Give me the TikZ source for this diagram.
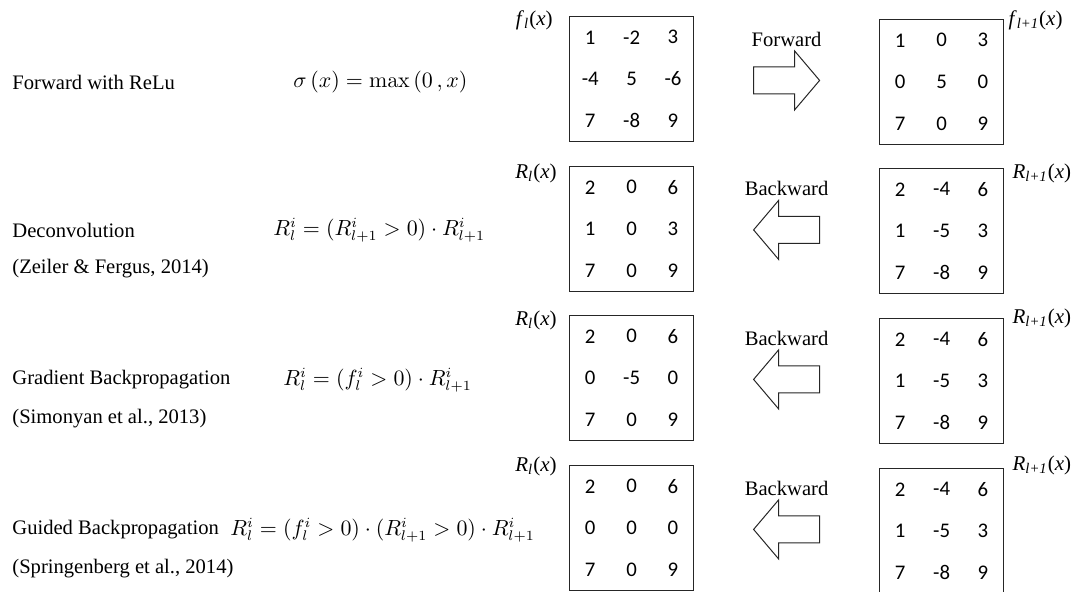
\documentclass[tikz,border=0pt]{standalone}
\usepackage[no-math]{fontspec}
\setmainfont{Liberation Serif}[ItalicFont={Liberation Serif Italic}]
\newfontfamily\numfont{Carlito}
\usetikzlibrary{matrix,calc}

% label of a feature map, e.g. f_l(x)
\newcommand{\maplabel}[2]{\textit{#1}\textsubscript{\textit{#2}}(\textit{x})}

\tikzset{
  fatarrow/.pic={
    \draw[fat] (-33,-13.5) -- (8,-13.5) -- (8,-29.5) -- (33,0)
      -- (8,29.5) -- (8,13.5) -- (-33,13.5) -- cycle;
  }
}

\begin{document}
\begin{tikzpicture}[
  x=0.5pt, y=-0.5pt,
  txt/.style={font=\fontsize{10.3}{12}\selectfont, anchor=west, inner sep=0pt},
  eqn/.style={font=\fontsize{10.6}{13}\selectfont, anchor=west, inner sep=0pt},
  fmap/.style={matrix of nodes, draw=black!85, line width=0.5pt, inner sep=0pt,
               anchor=north west,
               nodes={font=\numfont\fontsize{10.4}{12}\selectfont,
                      minimum width=20.7pt, minimum height=20.8pt,
                      inner sep=0pt, anchor=center}},
  lbl/.style={font=\rmfamily\fontsize{10.5}{12}\selectfont, inner sep=0pt},
  dir/.style={font=\fontsize{10.3}{12}\selectfont, inner sep=0pt},
  fat/.style={draw=black!85, line width=0.5pt, fill=white}
]
  \useasboundingbox (0,0) rectangle (1076,591);

  % row 1: forward pass
  \node[txt] (relu) at (12,82) {Forward with ReLu};
  \node[eqn] (relueq) at (293,82) {$\sigma\,(x) = \max\,(0\,,x)$};
  \matrix[fmap] (fin) at (569,16) {
    1 & -2 & 3 \\
    -4 & 5 & -6 \\
    7 & -8 & 9 \\
  };
  \matrix[fmap] (fout) at (879,19) {
    1 & 0 & 3 \\
    0 & 5 & 0 \\
    7 & 0 & 9 \\
  };
  \node[lbl, anchor=east] (finlbl) at ([xshift=-8pt, yshift=-2pt]fin.north west) {\maplabel{f}{l}};
  \node[lbl, anchor=west] (foutlbl) at ([xshift=2pt, yshift=-0.5pt]fout.north east) {\maplabel{f}{l+1}};
  \coordinate (fwd) at ($(fin.east)!0.5!(fout.west)$);
  \path (fwd) pic {fatarrow};
  \node[dir] (fwdlbl) at ([yshift=20.5pt]fwd) {Forward};

  % row 2: deconvolution
  \node[txt] (deconv) at (12,230) {Deconvolution};
  \node[txt] (deconvref) at (12,269) {(Zeiler \& Fergus, 2014)};
  \node[eqn] (deconveq) at (273,230) {$R_l^i = (R_{l+1}^i > 0)\cdot R_{l+1}^i$};
  \matrix[fmap] (dcin) at (569,166) {
    2 & 0 & 6 \\
    1 & 0 & 3 \\
    7 & 0 & 9 \\
  };
  \matrix[fmap] (dcout) at (879,168) {
    2 & -4 & 6 \\
    1 & -5 & 3 \\
    7 & -8 & 9 \\
  };
  \node[lbl, anchor=east] (dcinlbl) at ([xshift=-6pt, yshift=-3.5pt]dcin.north west) {\maplabel{R}{l}};
  \node[lbl, anchor=west] (dcoutlbl) at ([xshift=4pt, yshift=-2.5pt]dcout.north east) {\maplabel{R}{l+1}};
  \coordinate (dcbwd) at ($(dcin.east)!0.5!(dcout.west)$);
  \path (dcbwd) pic[xscale=-1] {fatarrow};
  \node[dir] (dcbwdlbl) at ([yshift=20.5pt]dcbwd) {Backward};

  % row 3: gradient backpropagation
  \node[txt] (grad) at (12,380) {Gradient Backpropagation};
  \node[txt] (gradref) at (12,419) {(Simonyan et al., 2013)};
  \node[eqn] (gradeq) at (283,380) {$R_l^i = (f_l^i > 0)\cdot R_{l+1}^i$};
  \matrix[fmap] (gbin) at (569,315) {
    2 & 0 & 6 \\
    0 & -5 & 0 \\
    7 & 0 & 9 \\
  };
  \matrix[fmap] (gbout) at (879,318) {
    2 & -4 & 6 \\
    1 & -5 & 3 \\
    7 & -8 & 9 \\
  };
  \node[lbl, anchor=east] (gbinlbl) at ([xshift=-6pt, yshift=-2.5pt]gbin.north west) {\maplabel{R}{l}};
  \node[lbl, anchor=west] (gboutlbl) at ([xshift=4pt, yshift=0pt]gbout.north east) {\maplabel{R}{l+1}};
  \coordinate (gbbwd) at ($(gbin.east)!0.5!(gbout.west)$);
  \path (gbbwd) pic[xscale=-1] {fatarrow};
  \node[dir] (gbbwdlbl) at ([yshift=20.5pt]gbbwd) {Backward};

  % row 4: guided backpropagation
  \node[txt] (guided) at (12,530) {Guided Backpropagation};
  \node[txt] (guidedref) at (12,569) {(Springenberg et al., 2014)};
  \node[eqn] (guidedeq) at (230,530) {$R_l^i = (f_l^i > 0)\cdot(R_{l+1}^i > 0)\cdot R_{l+1}^i$};
  \matrix[fmap] (gdin) at (569,465) {
    2 & 0 & 6 \\
    0 & 0 & 0 \\
    7 & 0 & 9 \\
  };
  \matrix[fmap] (gdout) at (879,468) {
    2 & -4 & 6 \\
    1 & -5 & 3 \\
    7 & -8 & 9 \\
  };
  \node[lbl, anchor=east] (gdinlbl) at ([xshift=-6pt, yshift=-0.5pt]gdin.north west) {\maplabel{R}{l}};
  \node[lbl, anchor=west] (gdoutlbl) at ([xshift=4pt, yshift=1.5pt]gdout.north east) {\maplabel{R}{l+1}};
  \coordinate (gdbwd) at ($(gdin.east)!0.5!(gdout.west)$);
  \path (gdbwd) pic[xscale=-1] {fatarrow};
  \node[dir] (gdbwdlbl) at ([yshift=20.5pt]gdbwd) {Backward};
\end{tikzpicture}
\end{document}
